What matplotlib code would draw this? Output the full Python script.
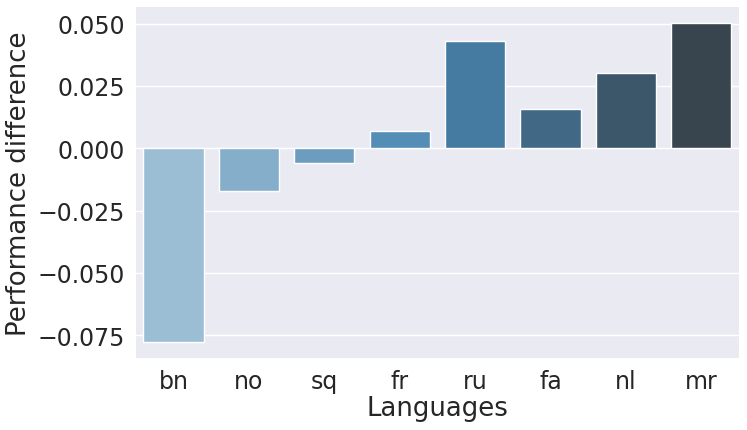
import colorsys

import matplotlib

matplotlib.use("Agg")
import matplotlib.pyplot as plt
from matplotlib.colors import LinearSegmentedColormap
import numpy as np

languages = ["bn", "no", "sq", "fr", "ru", "fa", "nl", "mr"]
perf_diff = [-0.0778, -0.0170, -0.0058, 0.0071, 0.0430, 0.0157, 0.0300, 0.0502]


def blues_d(n, saturation=0.75):
    # same recipe as seaborn's "Blues_d", then the barplot desaturation
    base = [plt.cm.Blues(1 / 3), plt.cm.Blues(2 / 3), "#333333"]
    cmap = LinearSegmentedColormap.from_list("blues_d", base)
    bins = np.linspace(0, 1, n + 2)[1:-1]
    out = []
    for rgba in cmap(bins):
        h, l, s = colorsys.rgb_to_hls(*rgba[:3])
        out.append(colorsys.hls_to_rgb(h, l, s * saturation))
    return out


plt.rcParams.update({
    "axes.facecolor": "#EAEAF2",
    "axes.edgecolor": "white",
    "axes.grid": True,
    "grid.color": "white",
    "grid.linewidth": 1.0,
    "axes.axisbelow": True,
    "text.color": "#262626",
    "axes.labelcolor": "#262626",
    "xtick.color": "#262626",
    "ytick.color": "#262626",
    "font.family": ["DejaVu Sans"],
})

fig, ax = plt.subplots(figsize=(7.47, 4.31), dpi=100)
fig.subplots_adjust(left=0.182, right=0.989, top=0.981, bottom=0.167)

x = np.arange(len(languages))
ax.bar(x, perf_diff, width=0.8, color=blues_d(len(languages)), edgecolor="white", linewidth=1.0)
ax.set_xlim(-0.5, len(languages) - 0.5)
ax.set_xticks(x)
ax.set_xticklabels(languages)
ax.set_yticks([-0.075, -0.050, -0.025, 0.0, 0.025, 0.050])
ax.set_yticklabels(["\u22120.075", "\u22120.050", "\u22120.025", "0.000", "0.025", "0.050"])
ax.grid(axis="x", visible=False)
for s in ax.spines.values():
    s.set_visible(False)
ax.tick_params(axis="both", length=0, labelsize=17, pad=8)
ax.set_xlabel("Languages", fontsize=18.7, labelpad=1)
ax.set_ylabel("Performance difference", fontsize=18.7, labelpad=4)

fig.savefig("out.png", dpi=100)
